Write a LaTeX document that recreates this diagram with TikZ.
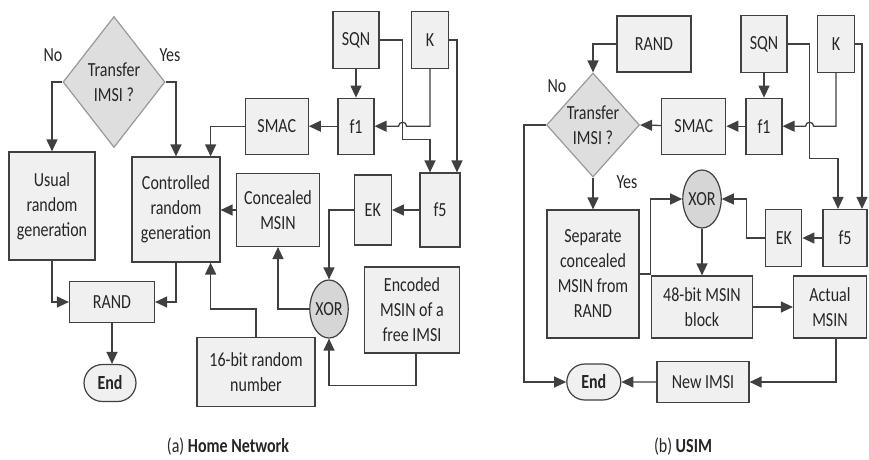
\documentclass[tikz,border=0pt]{standalone}
\usepackage{fontspec}
\setmainfont{Carlito}[FakeStretch=0.8]
\usetikzlibrary{shapes.geometric, shapes.misc, arrows.meta, positioning, calc}

\begin{document}
\begin{tikzpicture}[
        x=1pt, y=-1pt,
        % Define styles for the different blocks
        block/.style={rectangle, draw=black!75, line width=1.2pt, fill=black!6, text=black!85, align=center, inner sep=1pt, font=\fontsize{20}{25}\selectfont},
        decision/.style={diamond, draw=black!40, line width=1.2pt, fill=black!13, text=black!85, align=center, inner sep=0pt, font=\fontsize{20}{25}\selectfont},
        gate/.style={ellipse, draw=black!75, line width=1.2pt, fill=black!16, text=black!85, inner sep=0pt, minimum width=38, minimum height=58, font=\fontsize{20}{25}\selectfont},
        terminal/.style={rounded rectangle, draw=black!75, line width=1.2pt, fill=black!6, text=black!85, inner sep=1pt, font=\fontsize{20}{25}\selectfont\bfseries},
        lbl/.style={text=black!85, inner sep=0pt, font=\fontsize{20}{25}\selectfont},
        line/.style={draw, -{Triangle[length=12pt, width=11pt]}, line width=1.3pt, color=black!75}
    ]
    \useasboundingbox (0,0) rectangle (869,459);

    % --- Nodes: (a) Home Network ---
    \node [decision, minimum width=102, minimum height=131] (tra) at (114,82) {Transfer\\IMSI ?};
    \node [lbl] (noa) at (53,55) {No};
    \node [lbl] (yesa) at (170,55) {Yes};

    \node [block, minimum width=86, minimum height=108] (usual) at (52,206) {Usual\\random\\generation};
    \node [block, minimum width=88, minimum height=105] (ctrl) at (176,209.5) {Controlled\\random\\generation};

    \node [block, minimum width=46, minimum height=57] (sqna) at (356,40) {SQN};
    \node [block, minimum width=37, minimum height=57] (ka) at (430,40) {K};
    \node [block, minimum width=36, minimum height=56, below=28.5pt of sqna] (fonea) {f1};
    \node [block, minimum width=63, minimum height=56, left=28.5pt of fonea] (smaca) {SMAC};

    \node [block, minimum width=40, minimum height=74] (ffivea) at (440,210) {f5};
    \node [block, minimum width=37, minimum height=70, left=27.5pt of ffivea] (eka) {EK};
    \node [block, minimum width=83, minimum height=73] (conc) at (278,210) {Concealed\\MSIN};

    \node [gate] (xora) at (329,309) {XOR};
    \node [block, minimum width=95, minimum height=86] (enc) at (412,310) {Encoded\\MSIN of a\\free IMSI};
    \node [block, minimum width=118, minimum height=69] (rnd) at (256,372) {16-bit random\\number};

    \node [block, minimum width=85, minimum height=41] (randa) at (112,302) {RAND};
    \node [terminal, minimum width=54, minimum height=37] (enda) at (110,383) {End};
    \node [lbl] (capa) at (228,447) {(a) \textbf{Home Network}};

    % --- Nodes: (b) USIM ---
    \node [block, minimum width=74, minimum height=56] (randb) at (654,44) {RAND};
    \node [decision, minimum width=93, minimum height=104] (trb) at (593,125) {Transfer\\IMSI ?};
    \node [lbl] (nob) at (557,86) {No};
    \node [lbl] (yesb) at (627,182) {Yes};

    \node [block, minimum width=46, minimum height=57] (sqnb) at (764,44) {SQN};
    \node [block, minimum width=37, minimum height=57] (kb) at (836,44) {K};
    \node [block, minimum width=36, minimum height=56, below=24.5pt of sqnb] (foneb) {f1};
    \node [block, minimum width=64, minimum height=56, left=19pt of foneb] (smacb) {SMAC};

    \node [block, minimum width=44, minimum height=57] (ffiveb) at (845,238) {f5};
    \node [block, minimum width=36, minimum height=57, left=20pt of ffiveb] (ekb) {EK};
    \node [gate] (xorb) at (702,199) {XOR};

    \node [block, minimum width=92, minimum height=128] (sep) at (593,274) {Separate\\concealed\\MSIN from\\RAND};
    \node [block, minimum width=101, minimum height=62] (blk) at (702,307) {48-bit MSIN\\block};
    \node [block, minimum width=73, minimum height=62] (act) at (830,307) {Actual\\MSIN};

    \node [block, minimum width=92, minimum height=41] (newi) at (703,382) {New IMSI};
    \node [terminal, minimum width=56, minimum height=36, left=35pt of newi] (endb) {End};
    \node [lbl] (capb) at (683,447) {(b) \textbf{USIM}};

    % --- Edges (Arrows): (a) ---
    \path [line] (tra.west) -| (usual.north);
    \path [line] (tra.east) -| (ctrl.north);
    \path [line] (smaca.west) -| ([xshift=-10pt]ctrl.north east);
    \path [line] (fonea) -- (smaca);
    \path [line] (sqna) -- (fonea);
    \path [line] (ka.south) |- ($(fonea.east)+(32,0)$)
        arc[start angle=0, end angle=180, radius=4pt] -- (fonea.east);
    \path [line] (sqna.east) -| ($(fonea.east)+(28,13)$) -| ([xshift=-10pt]ffivea.north);
    \path [line] (ka.east) -| ([xshift=17pt]ffivea.north);
    \path [line] (ffivea) -- (eka);
    \path [line] (eka.west) -| (xora.north);
    \path [line] (xora.west) -| (conc.south);
    \path [line] (conc.west) -- (conc.west -| ctrl.east);
    \path [line] ([xshift=4pt]enc.south) -- ++(0,32) -| (xora.south);
    \path [line] (rnd.north) -- ++(0,-28) -| ([xshift=-10pt]ctrl.south east);
    \path [line] (usual.south) |- (randa.west);
    \path [line] (ctrl.south) |- (randa.east);
    \path [line] (randa.south) -- (randa.south |- enda.north);

    % --- Edges (Arrows): (b) ---
    \path [line] (randb.west) -| (trb.north);
    \path [line] (smacb) -- (trb.east);
    \path [line] (foneb) -- (smacb);
    \path [line] (sqnb) -- (foneb);
    \path [line] (kb.south) |- ($(foneb.east)+(31,0)$)
        arc[start angle=0, end angle=180, radius=4pt] -- (foneb.east);
    \path [line] (sqnb.east) -| ($(foneb.east)+(27,32)$) -| ([xshift=-7pt]ffiveb.north);
    \path [line] (kb.east) -| ([xshift=17pt]ffiveb.north);
    \path [line] (ffiveb) -- (ekb);
    \path [line] (ekb.west) -- ++(-19,0) |- (xorb.east);
    \path [line] (sep.east) -- ++(11,0) |- (xorb.west);
    \path [line] (trb.south) -- (sep.north);
    \path [line] (xorb) -- (blk);
    \path [line] (blk) -- (act);
    \path [line] ([xshift=6pt]act.south) |- (newi.east);
    \path [line] (newi) -- (endb);
    \path [line] (trb.west) -- ++(-22,0) |- (endb.west);

    \end{tikzpicture}
\end{document}
